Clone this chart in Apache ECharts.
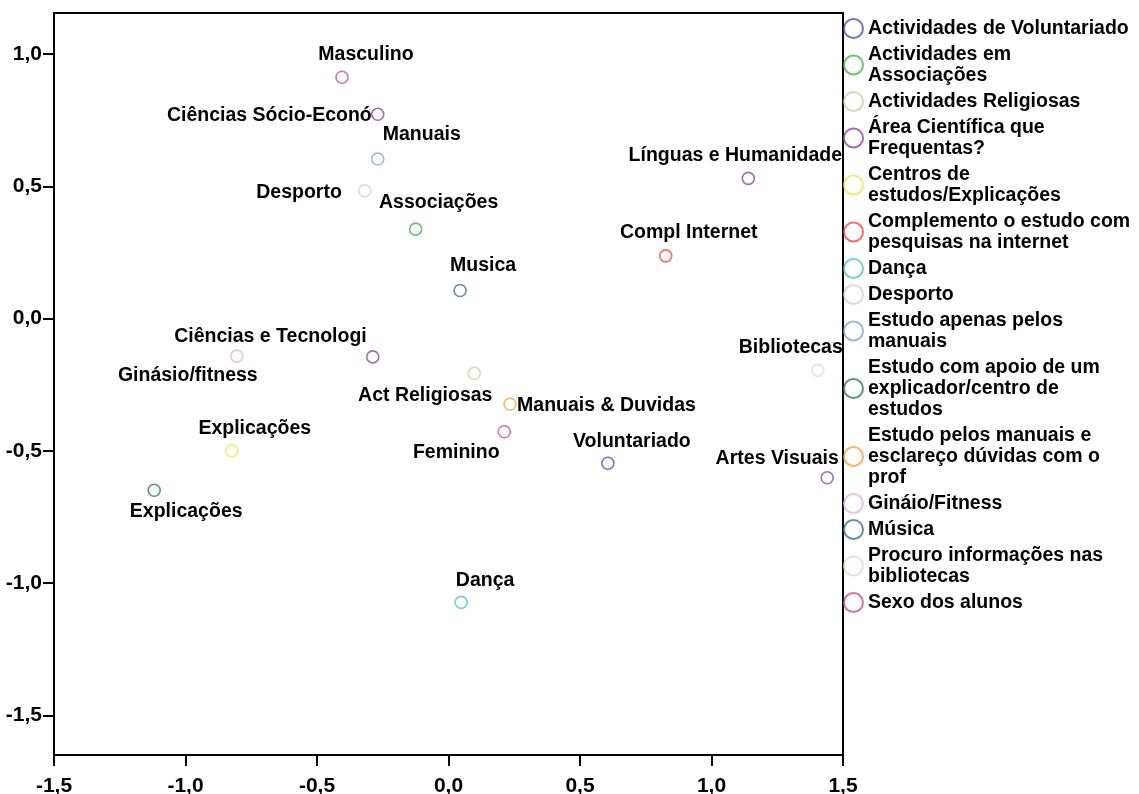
<!DOCTYPE html>
<html>
<head>
    <meta charset="utf-8">
    <title>Pontos de categoria</title>
    <script src="https://cdn.jsdelivr.net/npm/echarts@6/dist/echarts.min.js"></script>
    <style>
        html, body { margin: 0; padding: 0; background: #fff; }
        #chart1 { width: 1139px; height: 794px; }
    </style>
</head>
<body>
<div id="chart1"></div>
<script type="text/javascript">
    // variaveis (legenda)
    var groupNames = [
        'Actividades de Voluntariado',
        'Actividades em\nAssociações',
        'Actividades Religiosas',
        'Área Científica que\nFrequentas?',
        'Centros de\nestudos/Explicações',
        'Complemento o estudo com\npesquisas na internet',
        'Dança',
        'Desporto',
        'Estudo apenas pelos\nmanuais',
        'Estudo com apoio de um\nexplicador/centro de\nestudos',
        'Estudo pelos manuais e\nesclareço dúvidas com o\nprof',
        'Gináio/Fitness',
        'Música',
        'Procuro informações nas\nbibliotecas',
        'Sexo dos alunos'
    ];

    // pontos de categoria
    var pointLabel = ['Voluntariado', 'Associações', 'Act Religiosas', 'Ciências Sócio-Econó', 'Línguas e Humanidade',
        'Ciências e Tecnologi', 'Artes Visuais', 'Explicações', 'Compl Internet', 'Dança', 'Desporto', 'Manuais',
        'Explicações', 'Manuais & Duvidas', 'Ginásio/fitness', 'Musica', 'Bibliotecas', 'Masculino', 'Feminino'];
    var pointX = [0.606, -0.125, 0.098, -0.269, 1.140, -0.288, 1.440, -0.824, 0.826, 0.048, -0.318, -0.269,
        -1.119, 0.234, -0.805, 0.044, 1.404, -0.405, 0.212];
    var pointY = [-0.547, 0.338, -0.207, 0.772, 0.530, -0.145, -0.602, -0.500, 0.237, -1.073, 0.483, 0.603,
        -0.649, -0.324, -0.142, 0.106, -0.196, 0.912, -0.428];
    var pointGroup = [0, 1, 2, 3, 3, 3, 3, 4, 5, 6, 7, 8, 9, 10, 11, 12, 13, 14, 14];

    var tickValues = [-1.5, -1.0, -0.5, 0.0, 0.5, 1.0, 1.5];

    // estilo
    var groupColors = ['#4459b5', '#45b649', '#d6d0a0', '#9544a3', '#f2e64f', '#f04848', '#55c4cc', '#d2d2d2',
        '#7aa7de', '#2f7f4f', '#f8a43c', '#e2b5e0', '#34749a', '#cfe9c4', '#cf4f93'];
    // [align, dx, dy] do rotulo em relacao ao ponto
    var labelPlace = [
        ['center', 24, -22], ['center', 23, -26], ['center', -49, 22], ['right', -6, 1], ['center', -13, -23],
        ['right', -6, -20], ['center', -50, -19], ['center', 23, -22], ['center', 23, -23], ['center', 24, -22],
        ['right', -23, 2], ['left', 5, -24], ['center', 32, 21], ['left', 7, 1], ['center', -49, 20],
        ['center', 23, -25], ['center', -27, -23], ['center', 24, -23], ['center', -48, 21]
    ];

    var font = 'Liberation Sans, Arial, sans-serif';

    var series = groupNames.map(function (name, g) {
        var data = [];
        for (var i = 0; i < pointLabel.length; i++) {
            if (pointGroup[i] !== g) continue;
            data.push({
                value: [pointX[i], pointY[i]],
                name: pointLabel[i],
                label: { align: labelPlace[i][0], offset: [labelPlace[i][1], labelPlace[i][2]] }
            });
        }
        return {
            name: name,
            type: 'scatter',
            symbol: 'circle',
            symbolSize: 12,
            itemStyle: { color: 'rgba(255,255,255,0)', borderColor: groupColors[g], borderWidth: 1.6 },
            label: {
                show: true,
                position: 'inside',
                verticalAlign: 'middle',
                formatter: '{b}',
                color: '#000',
                opacity: 1,
                textBorderWidth: 0,
                textBorderColor: 'transparent',
                fontFamily: font,
                fontWeight: 'bold',
                fontSize: 19.5
            },
            emphasis: { disabled: true },
            data: data
        };
    });

    var myChart1 = echarts.init(document.getElementById('chart1'));
    myChart1.setOption({
        animation: false,
        grid: {
            left: 54, right: 296, top: 13, bottom: 39,
            containLabel: false,
            outerBoundsMode: 'none',
            show: true,
            borderColor: '#000',
            borderWidth: 2
        },
        legend: {
            orient: 'vertical',
            left: 843,
            top: 18,
            padding: 0,
            itemWidth: 19,
            itemHeight: 19,
            itemGap: 5,
            selectedMode: false,
            textStyle: { color: '#000', fontFamily: font, fontWeight: 'bold', fontSize: 19.5, lineHeight: 21 },
            data: groupNames.map(function (name, g) {
                return {
                    name: name,
                    icon: 'circle',
                    itemStyle: { color: 'rgba(255,255,255,0)', borderColor: groupColors[g], borderWidth: 2 }
                };
            })
        },
        xAxis: {
            type: 'value',
            min: -1.5,
            max: 1.5,
            interval: 0.5,
            splitLine: { show: false },
            axisLine: { onZero: false, lineStyle: { color: '#000', width: 2 } },
            axisTick: { length: 11, lineStyle: { color: '#000', width: 2 } },
            axisLabel: {
                margin: 21,
                color: '#000',
                fontFamily: font,
                fontWeight: 'bold',
                fontSize: 21,
                formatter: function (v) { return v.toFixed(1).replace('.', ','); }
            }
        },
        yAxis: {
            type: 'value',
            min: -1.65,
            max: 1.155,
            splitLine: { show: false },
            axisLine: { show: true, onZero: false, lineStyle: { color: '#000', width: 2 } },
            axisTick: { show: true, length: 11, customValues: tickValues.slice(0, 6), lineStyle: { color: '#000', width: 2 } },
            axisLabel: {
                margin: 12,
                color: '#000',
                fontFamily: font,
                fontWeight: 'bold',
                fontSize: 21,
                customValues: tickValues.slice(0, 6),
                formatter: function (v) { return v.toFixed(1).replace('.', ','); }
            }
        },
        series: series
    });
</script>
</body>
</html>
